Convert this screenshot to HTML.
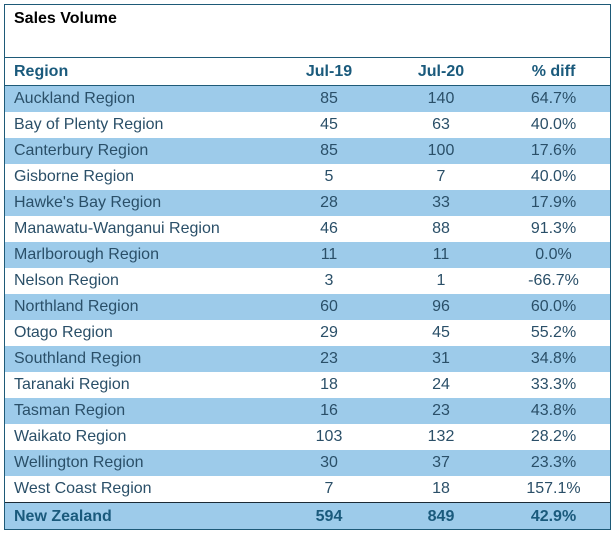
<!DOCTYPE html>
<html><head><meta charset="utf-8"><style>
body{margin:0;background:#fff;font-family:"Liberation Sans",Arial,sans-serif;}
#wrap{position:absolute;left:4px;top:4px;width:605px;height:524px;border:1px solid #1e5a78;overflow:hidden;}
.title{position:absolute;left:9px;top:5px;font-weight:bold;font-size:16px;color:#000;}
table{position:absolute;left:0;top:52px;width:605px;border-collapse:collapse;font-size:16px;}
td,th{padding:0;height:26px;}
th{color:#1a5a7c;font-weight:bold;height:27px;border-top:1.5px solid #1e5a78;border-bottom:1.5px solid #1e5a78;text-align:center;}
td{color:#2a4f68;text-align:center;}
td:first-child,th:first-child{text-align:left;padding-left:9px;}
tr.b td{background:#9dcbea;}
tr.tot td{background:#9dcbea;font-weight:bold;color:#1a5a7c;height:27px;border-top:1.5px solid #1b2a35;}
</style></head><body>
<div id="wrap">
<div class="title">Sales Volume</div>
<table>
<colgroup><col style="width:268px"><col style="width:112px"><col style="width:112px"><col style="width:113px"></colgroup>
<tr><th>Region</th><th>Jul-19</th><th>Jul-20</th><th>% diff</th></tr>
<tr class="b"><td>Auckland Region</td><td>85</td><td>140</td><td>64.7%</td></tr>
<tr><td>Bay of Plenty Region</td><td>45</td><td>63</td><td>40.0%</td></tr>
<tr class="b"><td>Canterbury Region</td><td>85</td><td>100</td><td>17.6%</td></tr>
<tr><td>Gisborne Region</td><td>5</td><td>7</td><td>40.0%</td></tr>
<tr class="b"><td>Hawke's Bay Region</td><td>28</td><td>33</td><td>17.9%</td></tr>
<tr><td>Manawatu-Wanganui Region</td><td>46</td><td>88</td><td>91.3%</td></tr>
<tr class="b"><td>Marlborough Region</td><td>11</td><td>11</td><td>0.0%</td></tr>
<tr><td>Nelson Region</td><td>3</td><td>1</td><td>-66.7%</td></tr>
<tr class="b"><td>Northland Region</td><td>60</td><td>96</td><td>60.0%</td></tr>
<tr><td>Otago Region</td><td>29</td><td>45</td><td>55.2%</td></tr>
<tr class="b"><td>Southland Region</td><td>23</td><td>31</td><td>34.8%</td></tr>
<tr><td>Taranaki Region</td><td>18</td><td>24</td><td>33.3%</td></tr>
<tr class="b"><td>Tasman Region</td><td>16</td><td>23</td><td>43.8%</td></tr>
<tr><td>Waikato Region</td><td>103</td><td>132</td><td>28.2%</td></tr>
<tr class="b"><td>Wellington Region</td><td>30</td><td>37</td><td>23.3%</td></tr>
<tr><td>West Coast Region</td><td>7</td><td>18</td><td>157.1%</td></tr>
<tr class="tot"><td>New Zealand</td><td>594</td><td>849</td><td>42.9%</td></tr>
</table>
</div>
</body></html>
